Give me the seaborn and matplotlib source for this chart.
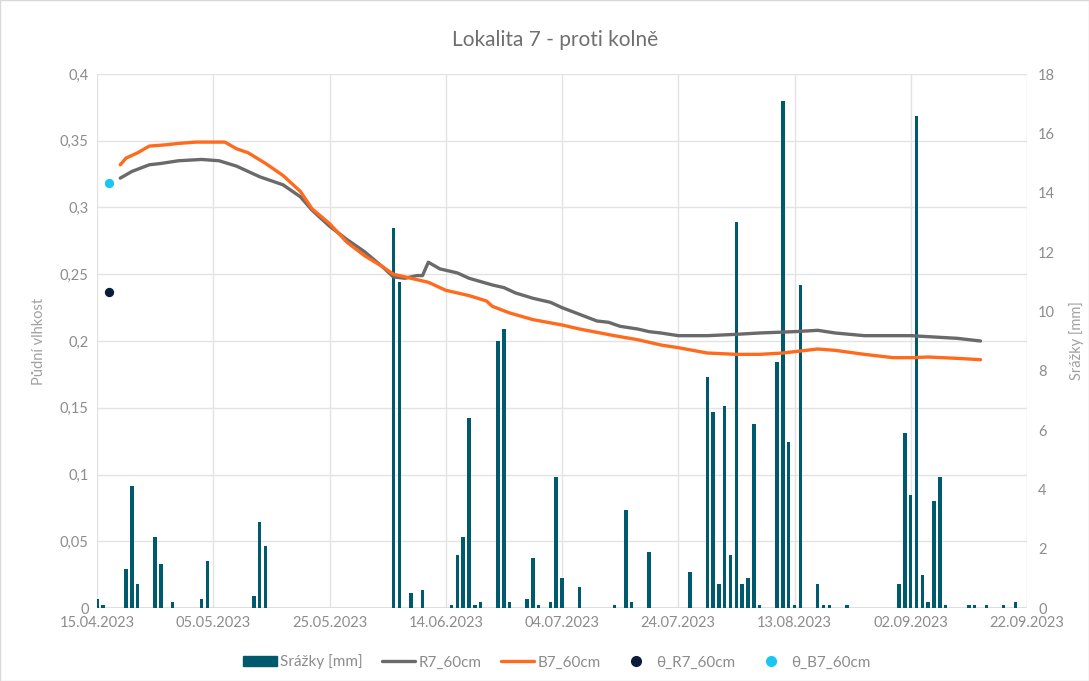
import datetime as dt
import matplotlib
matplotlib.use("Agg")
import matplotlib.pyplot as plt
import matplotlib.dates as mdates
from matplotlib.patches import Rectangle
from matplotlib.lines import Line2D
from matplotlib.ticker import FuncFormatter, MultipleLocator
import pandas as pd
import seaborn as sns

sns.set_theme(style="white")
plt.rcParams["font.family"] = ["Lato", "DejaVu Sans"]

# ---- data ----
start = dt.date(2023, 4, 15)
end = dt.date(2023, 9, 22)

# daily rainfall: day offset from 15.04.2023, mm
rain_day = [0, 1, 5, 6, 7, 10, 11, 13, 18, 19, 27, 28, 29,
            51, 52, 54, 56, 61, 62, 63, 64, 65, 66, 69, 70, 71, 74, 75, 76,
            78, 79, 80, 83, 89, 91, 92, 95, 102,
            105, 106, 107, 108, 109, 110, 111, 112, 113, 114,
            117, 118, 119, 120, 121, 124, 125, 126, 129,
            138, 139, 140, 141, 142, 143, 144, 145, 146, 150, 151, 153, 156, 158]
rain_mm = [0.3, 0.1, 1.3, 4.1, 0.8, 2.4, 1.5, 0.2, 0.3, 1.6, 0.4, 2.9, 2.1,
           12.8, 11.0, 0.5, 0.6, 0.1, 1.8, 2.4, 6.4, 0.1, 0.2, 9.0, 9.4, 0.2, 0.3, 1.7, 0.1,
           0.2, 4.4, 1.0, 0.7, 0.1, 3.3, 0.2, 1.9, 1.2,
           7.8, 6.6, 0.8, 6.8, 1.8, 13.0, 0.8, 1.0, 6.2, 0.1,
           8.3, 17.1, 5.6, 0.1, 10.9, 0.8, 0.1, 0.1, 0.1,
           0.8, 5.9, 3.8, 16.6, 1.1, 0.2, 3.6, 4.4, 0.1, 0.1, 0.1, 0.1, 0.1, 0.2]

# soil moisture R7_60cm
r7_day = [4, 6, 9, 11, 14, 18, 21, 24, 28, 32, 35, 37, 40, 43, 46, 49, 51, 53,
          55, 56, 57, 59, 62, 64, 68, 70, 72, 75, 78, 80, 83, 86, 88, 90, 93, 95,
          97, 100, 105, 110, 114, 120, 124, 127, 132, 136, 140, 144, 148, 152]
r7_val = [0.322, 0.327, 0.332, 0.333, 0.335, 0.336, 0.335, 0.331, 0.323, 0.317,
          0.308, 0.298, 0.286, 0.276, 0.267, 0.256, 0.248, 0.247, 0.249, 0.249,
          0.259, 0.254, 0.251, 0.247, 0.242, 0.240, 0.236, 0.232, 0.229, 0.225,
          0.220, 0.215, 0.214, 0.211, 0.209, 0.207, 0.206, 0.204, 0.204, 0.205,
          0.206, 0.207, 0.208, 0.206, 0.204, 0.204, 0.204, 0.203, 0.202, 0.200]

# soil moisture B7_60cm
b7_day = [4, 5, 7, 9, 12, 14, 17, 19, 22, 24, 26, 29, 32, 35, 37, 40, 43, 46,
          49, 51, 54, 57, 60, 64, 67, 68, 71, 75, 80, 83, 89, 93, 97, 100, 105,
          110, 114, 118, 121, 124, 127, 132, 137, 140, 143, 148, 152]
b7_val = [0.332, 0.337, 0.341, 0.346, 0.347, 0.348, 0.349, 0.349, 0.349, 0.344,
          0.341, 0.333, 0.324, 0.312, 0.299, 0.288, 0.274, 0.264, 0.256, 0.250,
          0.247, 0.244, 0.238, 0.234, 0.230, 0.226, 0.221, 0.216, 0.212, 0.209,
          0.204, 0.201, 0.197, 0.195, 0.191, 0.190, 0.190, 0.191, 0.1925, 0.194,
          0.193, 0.190, 0.1875, 0.1875, 0.188, 0.187, 0.186]

# single theta measurements
theta_day = [2]
theta_r7 = [0.237]
theta_b7 = [0.318]

c_bar = "#005A6E"
c_r7 = "#6A6A6A"
c_b7 = "#FF6A1C"
c_tr7 = "#0B1D3A"
c_tb7 = "#1CC6F2"
c_txt = "#8C8C8C"


def to_num(days):
    return mdates.date2num([pd.Timestamp(start) + pd.Timedelta(days=d) for d in days])


fig = plt.figure(figsize=(10.89, 6.81), dpi=100)
fig.patches.append(Rectangle((0, 0), 1, 1, transform=fig.transFigure,
                             fill=False, edgecolor="#D9D9D9", linewidth=1))
pos = [97 / 1089, 1 - 608 / 681, 930 / 1089, 534 / 681]

# base axes: grid + left ticks
ax = fig.add_axes(pos)
ax.set_zorder(1)
# bars on secondary scale
axb = ax.twinx()
axb.set_zorder(2)
axb.patch.set_visible(False)
# lines on primary scale, above bars
axl = ax.twinx()
axl.set_zorder(3)
axl.patch.set_visible(False)

sns.barplot(x=to_num(rain_day), y=rain_mm, native_scale=True, orient="x",
            color=c_bar, saturation=1, width=0.6, linewidth=0, errorbar=None, ax=axb)

sns.lineplot(x=to_num(r7_day), y=r7_val, color=c_r7, linewidth=2.4, ax=axl)
sns.lineplot(x=to_num(b7_day), y=b7_val, color=c_b7, linewidth=2.4, ax=axl)
sns.scatterplot(x=to_num(theta_day), y=theta_r7, color=c_tr7, s=45, linewidth=0, ax=axl)
sns.scatterplot(x=to_num(theta_day), y=theta_b7, color=c_tb7, s=45, linewidth=0, ax=axl)

x0 = mdates.date2num(pd.Timestamp(start))
x1 = mdates.date2num(pd.Timestamp(end))
ticks = mdates.date2num(pd.date_range(start, end, freq="20D"))
for a in (ax, axb, axl):
    a.set_xlim(x0, x1)
    for s in a.spines.values():
        s.set_visible(False)
    a.set_ylabel("")
    a.set_xlabel("")

ax.set_ylim(0, 0.4)
axl.set_ylim(0, 0.4)
axb.set_ylim(0, 18)

ax.set_xticks(ticks)
ax.xaxis.set_major_formatter(mdates.DateFormatter("%d.%m.%Y"))
ax.yaxis.set_major_locator(MultipleLocator(0.05))
ax.yaxis.set_major_formatter(FuncFormatter(lambda v, p: f"{v:.2f}".rstrip("0").rstrip(".").replace(".", ",")))
ax.grid(True, color="#E3E3E3", linewidth=1)
ax.tick_params(axis="both", length=0, colors=c_txt, labelsize=10.5, pad=6)

axb.yaxis.set_major_locator(MultipleLocator(2))
axb.tick_params(axis="y", length=0, colors=c_txt, labelsize=10.5, pad=8)
axb.tick_params(axis="x", bottom=False, labelbottom=False)
axl.set_yticks([])
axl.tick_params(axis="x", bottom=False, labelbottom=False)
axb.axhline(0, color="#D9D9D9", linewidth=1.2, zorder=0)

ax.set_ylabel("Půdní vlhkost", color="#A0A0A0", fontsize=10.5, labelpad=10)
axb.set_ylabel("Srážky [mm]", color="#A0A0A0", fontsize=10.5, labelpad=10)
axb.yaxis.set_label_position("right")

fig.text(555 / 1089, 1 - 40 / 681, "Lokalita 7 - proti kolně", ha="center", va="center",
         fontsize=15, color="#6F6F6F")

handles = [
    Rectangle((0, 0), 1, 1, color=c_bar),
    Line2D([0], [0], color=c_r7, linewidth=2.4),
    Line2D([0], [0], color=c_b7, linewidth=2.4),
    Line2D([0], [0], color=c_tr7, marker="o", linestyle="", markersize=7),
    Line2D([0], [0], color=c_tb7, marker="o", linestyle="", markersize=7),
]
labels = ["Srážky [mm]", "R7_60cm", "B7_60cm", "θ_R7_60cm", "θ_B7_60cm"]
leg = fig.legend(handles, labels, loc="center", bbox_to_anchor=(557 / 1089, 1 - 662 / 681),
                 ncol=5, frameon=False, fontsize=11, handlelength=2.2, handleheight=0.55,
                 columnspacing=1.25, handletextpad=0.2)
for t in leg.get_texts():
    t.set_color(c_txt)

fig.savefig("out.png", dpi=100)
